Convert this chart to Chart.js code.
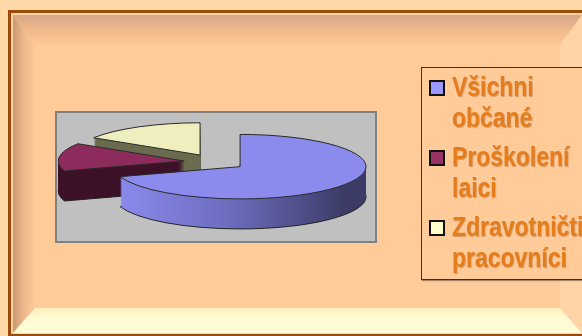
<!DOCTYPE html>
<html>
<head>
<meta charset="utf-8">
<script src="https://cdn.jsdelivr.net/npm/chart.js@4.4.0/dist/chart.umd.min.js"></script>
<style>
  html, body { margin: 0; padding: 0; background: #FFD8A8; }
  #wrap { position: relative; width: 582px; height: 336px; overflow: hidden; }
  #chart { position: absolute; left: 0; top: 0; }
  #legend {
    position: absolute; left: 421px; top: 67px; width: 200px; height: 211px;
    border: 1px solid #333; box-shadow: 1px 1px 1px rgba(0,0,0,0.35);
    background: #FFCB99;
  }
  .item { position: absolute; left: 0; }
  .box {
    position: absolute; left: 7px; width: 12px; height: 12px;
    border: 2px solid #111;
  }
  .txt {
    position: absolute; left: 30px; white-space: nowrap;
    font-family: "Liberation Sans Narrow", "Arial Narrow", "Liberation Sans", sans-serif;
    font-weight: bold; font-size: 28px; line-height: 30.5px;
    color: #E67D1C; text-shadow: 1px 1px 1px rgba(130, 60, 0, 0.35);
    transform: scaleX(0.82); transform-origin: 0 0;
  }
</style>
</head>
<body>
<div id="wrap">
  <canvas id="chart" width="582" height="336"></canvas>
  <div id="legend"></div>
</div>
<script>
const categories = [['Všichni', 'občané'], ['Proškolení', 'laici'], ['Zdravotničti', 'pracovníci']];
const shares = [70, 14, 16];
const topColors = ['#8B8BEE', '#8E2B5D', '#EEEEBF'];
const sideColors = ['#3B3B65', '#3D1228', '#6B6B4F'];
const keyColors = ['#9999FF', '#993366', '#FFFFCC'];

// pie tilt (vertical squash), wall height and slice pull-out in px
const TILT = 0.256;
const DEPTH = 30;
const EXPLODE = 31;

const frame = {
  id: 'frame',
  beforeDraw(chart) {
    const ctx = chart.ctx;
    ctx.save();
    ctx.fillStyle = '#FFD8A8';
    ctx.fillRect(0, 0, 582, 336);
    ctx.fillStyle = '#9B4A0B';
    ctx.fillRect(8, 10, 600, 330);
    ctx.fillStyle = '#FFD2A2';
    ctx.fillRect(11, 13, 600, 321);

    const L = 13, T = 15, R = 582, B = 333;
    const bl = 22, bt = 30, br = 22, bb = 25;
    ctx.fillStyle = '#FFCB99';
    ctx.fillRect(L, T, R - L, B - T);

    function quad(pts, fill) {
      ctx.beginPath();
      ctx.moveTo(pts[0][0], pts[0][1]);
      for (let i = 1; i < pts.length; i++) ctx.lineTo(pts[i][0], pts[i][1]);
      ctx.closePath();
      ctx.fillStyle = fill;
      ctx.fill();
    }
    let g = ctx.createLinearGradient(0, T, 0, T + bt);
    g.addColorStop(0, '#D6A888');
    g.addColorStop(0.5, '#F0B98C');
    g.addColorStop(1, '#FEC895');
    quad([[L, T], [R, T], [R - br, T + bt], [L + bl, T + bt]], g);

    g = ctx.createLinearGradient(L, 0, L + bl, 0);
    g.addColorStop(0, '#C99874');
    g.addColorStop(0.5, '#EDB88C');
    g.addColorStop(1, '#FEC997');
    quad([[L, T], [L + bl, T + bt], [L + bl, B - bb], [L, B]], g);

    g = ctx.createLinearGradient(0, B - bb, 0, B);
    g.addColorStop(0, '#FFEDC0');
    g.addColorStop(0.4, '#FFFBD2');
    g.addColorStop(1, '#FFFDD8');
    quad([[L, B], [L + bl, B - bb], [R - br, B - bb], [R, B]], g);

    quad([[R, T], [R, B], [R - br, B - bb], [R - br, T + bt]], '#FFD4A6');

    // grey plot panel
    ctx.fillStyle = '#C0C0C0';
    ctx.fillRect(56, 112, 320, 130);
    ctx.strokeStyle = '#808080';
    ctx.lineWidth = 2;
    ctx.strokeRect(56, 112, 320, 130);
    ctx.restore();
  }
};

const pie3d = {
  id: 'pie3d',
  beforeDatasetsDraw(chart) {
    const ctx = chart.ctx;
    const arcs = chart.getDatasetMeta(0).data;
    const geo = arcs.map(a => {
      const mid = (a.startAngle + a.endAngle) / 2;
      return {
        cx: a.x + Math.cos(mid) * EXPLODE,
        cy: a.y + Math.sin(mid) * EXPLODE * TILT,
        r: a.outerRadius, s: a.startAngle, e: a.endAngle
      };
    });
    function path(g, dy) {
      ctx.beginPath();
      ctx.moveTo(g.cx, g.cy + dy);
      ctx.ellipse(g.cx, g.cy + dy, g.r, g.r * TILT, 0, g.s, g.e);
      ctx.closePath();
    }
    function sideFill(i) {
      if (i !== 0) return sideColors[i];
      const g = geo[0];
      const gr = ctx.createLinearGradient(g.cx - g.r, 0, g.cx + g.r * 0.85, 0);
      gr.addColorStop(0, topColors[0]);
      gr.addColorStop(0.5, '#6C6CBE');
      gr.addColorStop(1, sideColors[0]);
      return gr;
    }
    const order = [2, 1, 0];
    ctx.save();
    ctx.lineJoin = 'round';
    order.forEach(i => {
      ctx.fillStyle = sideFill(i);
      ctx.strokeStyle = '#222';
      ctx.lineWidth = 1;
      path(geo[i], DEPTH);
      ctx.fill();
      ctx.stroke();
      for (let d = DEPTH - 1; d >= 1; d--) {
        path(geo[i], d);
        ctx.fill();
      }
    });
    order.forEach(i => {
      ctx.fillStyle = topColors[i];
      ctx.strokeStyle = '#2A2A2A';
      ctx.lineWidth = 1;
      path(geo[i], 0);
      ctx.fill();
      ctx.stroke();
    });
    ctx.restore();
    return false;
  }
};

new Chart(document.getElementById('chart'), {
  type: 'pie',
  data: {
    labels: categories.map(c => c.join(' ')),
    datasets: [{ data: shares, backgroundColor: topColors, borderWidth: 0 }]
  },
  options: {
    responsive: false,
    animation: false,
    layout: { padding: { left: 89, right: 241, top: 36, bottom: 48 } },
    plugins: { legend: { display: false }, tooltip: { enabled: false } }
  },
  plugins: [frame, pie3d]
});

// legend built from the same arrays
const legend = document.getElementById('legend');
categories.forEach((lines, i) => {
  const item = document.createElement('div');
  item.className = 'item';
  item.style.top = (i * 70) + 'px';
  const box = document.createElement('div');
  box.className = 'box';
  box.style.top = '12px';
  box.style.background = keyColors[i];
  const txt = document.createElement('div');
  txt.className = 'txt';
  txt.style.top = '4px';
  txt.innerHTML = lines.join('<br>');
  item.appendChild(box);
  item.appendChild(txt);
  legend.appendChild(item);
});
</script>
</body>
</html>
